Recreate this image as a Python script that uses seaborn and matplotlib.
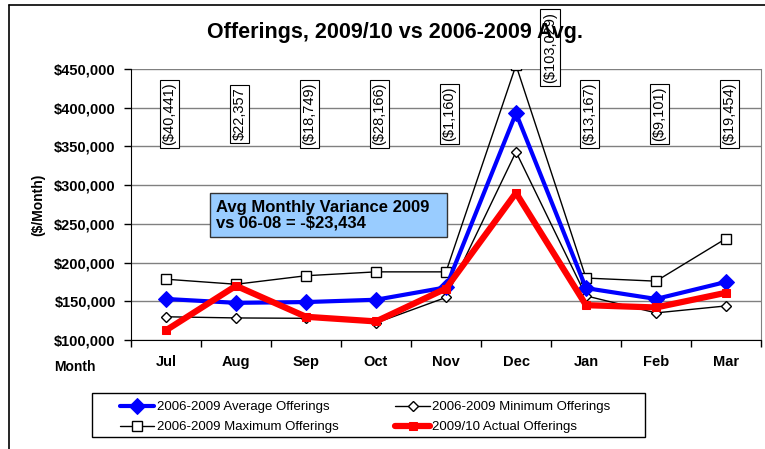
import numpy as np
import pandas as pd
import matplotlib.pyplot as plt
import seaborn as sns
from matplotlib.ticker import FuncFormatter, FixedLocator
from matplotlib.patches import Rectangle

# data
months = ["Jul", "Aug", "Sep", "Oct", "Nov", "Dec", "Jan", "Feb", "Mar"]
avg_off = [153000, 148000, 149000, 152000, 168000, 393000, 167000, 153000, 175000]
min_off = [130000, 128500, 128000, 122000, 155000, 343000, 157000, 135000, 144000]
max_off = [178500, 172000, 183000, 188000, 188000, 455000, 180000, 176000, 231000]
act_off = [112500, 170000, 130000, 124000, 166500, 290000, 145000, 142000, 161000]
variance = ["($40,441)", "$22,357", "($18,749)", "($28,166)", "($1,160)",
            "($103,029)", "($13,167)", "($9,101)", "($19,454)"]

sns.set_style("white")
plt.rcParams['font.family'] = ['Liberation Sans', 'DejaVu Sans']
plt.rcParams['text.color'] = 'black'
plt.rcParams['xtick.color'] = 'black'
plt.rcParams['ytick.color'] = 'black'

fig = plt.figure(figsize=(7.65, 4.49), dpi=100)
ax = fig.add_axes([131/765, 1-340/449, 630/765, 271/449])

df = pd.DataFrame({"Month": months, "avg": avg_off, "min": min_off,
                   "max": max_off, "act": act_off})

sns.lineplot(data=df, x="Month", y="max", ax=ax, sort=False, color="black", lw=1,
             marker="s", markersize=7, markerfacecolor="white", markeredgecolor="black",
             markeredgewidth=1, label="2006-2009 Maximum Offerings", zorder=3)
sns.lineplot(data=df, x="Month", y="min", ax=ax, sort=False, color="black", lw=1,
             marker="D", markersize=5, markerfacecolor="white", markeredgecolor="black",
             markeredgewidth=1, label="2006-2009 Minimum Offerings", zorder=3)
sns.lineplot(data=df, x="Month", y="avg", ax=ax, sort=False, color="#0000FF", lw=3,
             marker="D", markersize=8, markeredgecolor="#0000FF",
             label="2006-2009 Average Offerings", zorder=4)
sns.lineplot(data=df, x="Month", y="act", ax=ax, sort=False, color="#FF0000", lw=4.5,
             marker="s", markersize=6, markeredgecolor="#FF0000",
             label="2009/10 Actual Offerings", zorder=5)

ax.set_xlim(-0.5, 8.5)
ax.set_ylim(100000, 450000)
ax.set_yticks(np.arange(100000, 450001, 50000))
ax.yaxis.set_major_formatter(FuncFormatter(lambda v, p: f"${v:,.0f}"))
ax.grid(axis="y", color="#808080", lw=1)
ax.set_axisbelow(True)
ax.set_xlabel("")
ax.set_ylabel("")

ax.spines["top"].set_visible(False)
ax.spines["right"].set_color("#808080")
ax.spines["left"].set_color("black")
ax.spines["bottom"].set_color("black")

ax.tick_params(axis="y", direction="out", length=5, width=1, left=True, pad=6,
               labelsize=10.5)
ax.tick_params(axis="x", which="major", length=0, pad=11, labelsize=10.5)
ax.xaxis.set_minor_locator(FixedLocator(np.arange(-0.5, 9, 1)))
ax.tick_params(axis="x", which="minor", direction="out", length=5, width=1, bottom=True)
for lab in ax.get_xticklabels() + ax.get_yticklabels():
    lab.set_fontweight("bold")

# variance labels
for i, txt in enumerate(variance):
    if txt == "($103,029)":
        xx, yy = i + 0.49, 478000
    else:
        xx, yy = i + 0.05, 392000
    ax.text(xx, yy, txt, rotation=90, ha="center", va="center", fontsize=10.5,
            clip_on=False, zorder=6,
            bbox=dict(boxstyle="square,pad=0.2", fc="white", ec="black", lw=0.8))

# variance summary box
fig.add_artist(Rectangle((210/765, 1-237/449), 237/765, 44/449, transform=fig.transFigure,
                         fc="#99CCFF", ec="#333333", lw=1, zorder=6))
fig.text(216/765, 1-215/449, "Avg Monthly Variance 2009\nvs 06-08 = -$23,434",
         fontsize=12, fontweight="bold", ha="left", va="center", zorder=7,
         linespacing=1.05)

fig.text(0.516, 0.927, "Offerings, 2009/10 vs 2006-2009 Avg.", ha="center", va="center",
         fontsize=15.5, fontweight="bold", zorder=0)
fig.text(38/765, 1-205/449, "($/Month)", rotation=90, ha="center", va="center",
         fontsize=10, fontweight="bold")
fig.text(75/765, 1-367/449, "Month", ha="center", va="center", fontsize=10,
         fontweight="bold")

# legend (frame drawn separately to match the wide box)
h, l = ax.get_legend_handles_labels()
order = [2, 0, 1, 3]
fig.add_artist(Rectangle((92/765, 1-437/449), 553/765, 44/449, transform=fig.transFigure,
                         fc="white", ec="black", lw=1))
leg = fig.legend([h[k] for k in order], [l[k] for k in order], ncol=2,
                 loc="upper left", bbox_to_anchor=(120/765, 1-401/449), fontsize=9.5,
                 frameon=False, handlelength=2.6, handletextpad=0.2,
                 columnspacing=4.3, borderpad=0, borderaxespad=0, labelspacing=0.6)
ax.get_legend().remove()

# outer chart frame
fig.add_artist(plt.Line2D([9/765, 9/765], [0, 1-5/449], color="black", lw=1.2))
fig.add_artist(plt.Line2D([9/765, 1], [1-5/449, 1-5/449], color="black", lw=1.2))

fig.savefig("out.png", dpi=100)
